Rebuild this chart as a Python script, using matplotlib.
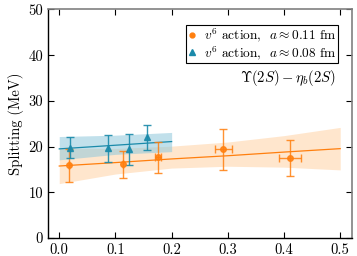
import matplotlib
matplotlib.use("Agg")
import matplotlib.pyplot as plt
from matplotlib.lines import Line2D
import numpy as np

plt.rcParams['font.family'] = 'serif'
plt.rcParams['font.serif'] = ['cmr10']
plt.rcParams['mathtext.fontset'] = 'cm'
plt.rcParams['axes.unicode_minus'] = False
plt.rcParams['axes.formatter.use_mathtext'] = True

# Data: a ~ 0.11 fm (orange)
x_o = [0.017, 0.113, 0.176, 0.292, 0.411]
xerr_o = [0.0, 0.0, 0.005, 0.0155, 0.0196]
y_o = [15.9, 16.1, 17.7, 19.4, 17.5]
yerr_o = [3.6, 3.0, 3.4, 4.5, 4.0]

# Data: a ~ 0.08 fm (cyan)
x_c = [0.020, 0.087, 0.125, 0.156]
y_c = [19.8, 19.6, 19.4, 22.0]
yerr_c = [2.4, 3.0, 3.4, 2.8]

# Fit bands
band_x_o = [0.0, 0.1, 0.2, 0.3, 0.4, 0.5]
fit_o = [15.75, 16.5, 17.3, 18.0, 18.8, 19.55]
lo_o = [11.9, 14.0, 15.3, 15.7, 15.5, 14.9]
hi_o = [19.6, 19.6, 20.1, 21.0, 22.4, 24.2]

band_x_c = [0.0, 0.1, 0.2]
fit_c = [19.5, 20.3, 21.1]
lo_c = [17.1, 18.3, 18.9]
hi_c = [22.2, 22.5, 23.1]

xticks = [0.0, 0.1, 0.2, 0.3, 0.4, 0.5]
yticks = [0, 10, 20, 30, 40, 50]

labels = [r'$v^6$ action,  $a \approx 0.11$ fm', r'$v^6$ action,  $a \approx 0.08$ fm']

orange = '#ff7f0e'
cyan = '#1a8aaa'

fig = plt.figure(figsize=(3.57, 2.56), dpi=100)
ax = fig.add_axes([0.1345, 0.0703, 0.8515, 0.8927])

ax.fill_between(band_x_o, lo_o, hi_o, color='#ffdcb8', alpha=0.7, lw=0)
ax.fill_between(band_x_c, lo_c, hi_c, color='#8ec8dc', alpha=0.55, lw=0)
ax.plot(band_x_o, fit_o, color=orange, lw=0.9)
ax.plot(band_x_c, fit_c, color=cyan, lw=0.9)

ax.errorbar(x_o, y_o, yerr=yerr_o, xerr=xerr_o, fmt='o', color=orange,
            ms=4, capsize=3, elinewidth=1.0, capthick=1.0, alpha=0.85)
ax.errorbar(x_c, y_c, yerr=yerr_c, fmt='^', color=cyan,
            ms=4, capsize=3, elinewidth=1.0, capthick=1.0, alpha=0.9)

ax.set_xlim(-0.02, 0.521)
ax.set_ylim(0, 50)
ax.set_xticks(xticks)
ax.set_xticklabels([f'{t:.1f}' for t in xticks])
ax.set_yticks(yticks)
ax.set_yticklabels([str(t) for t in yticks])
ax.tick_params(direction='in', top=True, right=True, labelsize=10.5, length=4, width=0.8)
for s in ['top', 'right']:
    ax.spines[s].set_color('#808080')
    ax.spines[s].set_linewidth(1.2)
for s in ['left', 'bottom']:
    ax.spines[s].set_color('black')
    ax.spines[s].set_linewidth(1.0)
ax.set_ylabel('Splitting (MeV)', fontsize=10.5, labelpad=3)

handles = [Line2D([], [], ls='none', marker='o', ms=3.5, color=orange),
           Line2D([], [], ls='none', marker='^', ms=4, color=cyan)]
leg = ax.legend(handles, labels, loc='upper right', fontsize=9.6, frameon=True,
                fancybox=False, edgecolor='black', framealpha=1, handlelength=0.6,
                handletextpad=0.6, borderpad=0.12, labelspacing=0.0,
                bbox_to_anchor=(0.975, 0.962))
leg.get_frame().set_linewidth(0.8)

ax.text(0.946, 0.70, r'$\Upsilon(2S) - \eta_b(2S)$', transform=ax.transAxes,
        ha='right', va='center', fontsize=10.5)

fig.savefig('out.png', dpi=100)
